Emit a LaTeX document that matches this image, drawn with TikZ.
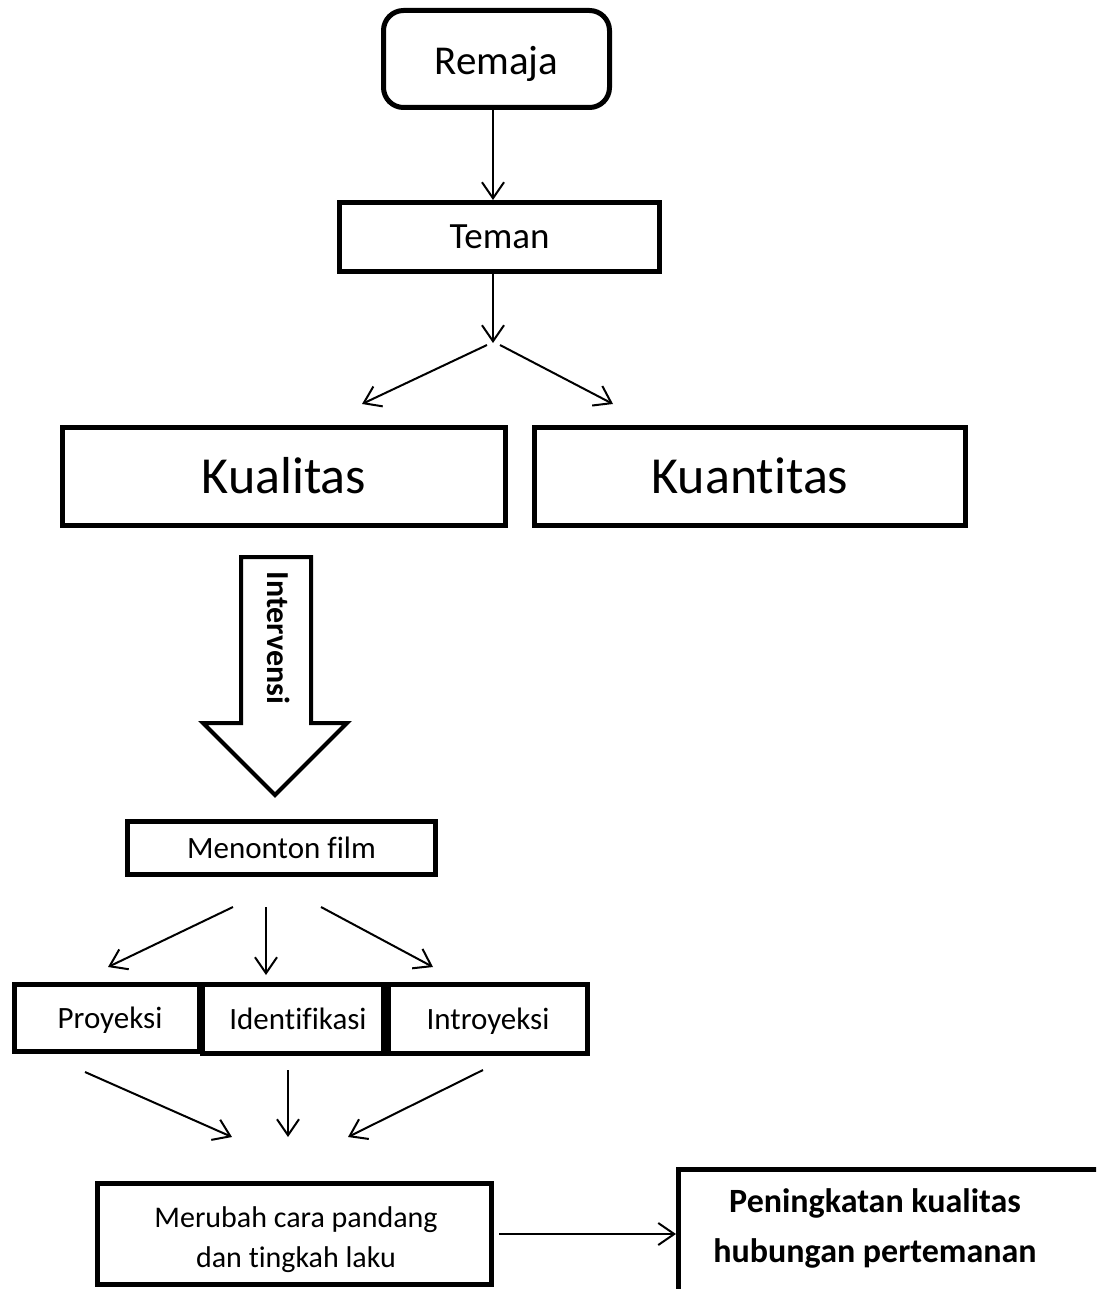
\documentclass[tikz,border=0pt]{standalone}
\usepackage{fontspec}
\setmainfont[Ligatures={NoCommon}]{Carlito}
\usetikzlibrary{arrows.meta}
\begin{document}
\begin{tikzpicture}[x=1pt,y=-1pt,
  box/.style={draw, line width=5pt, fill=white, inner sep=0pt, align=center, text depth=0pt},
  arr/.style={line width=2pt, -{Straight Barb[length=16pt,width=22pt]}}]
\useasboundingbox (0,0) rectangle (1096,1289);
\clip (0,0) rectangle (1096,1289);

% nodes
\node[box, rounded corners=20pt, minimum width=226pt, minimum height=97pt, text height=31pt,
      font=\fontsize{41}{49}\selectfont] (rj) at (496.5,59) {Remaja};
\node[box, minimum width=320pt, minimum height=69pt, text height=23.8pt,
      font=\fontsize{37}{44}\selectfont] (tm) at (499.5,237) {Teman};
\node[box, minimum width=443pt, minimum height=98pt, text height=33.5pt,
      font=\fontsize{52}{60}\selectfont] (kl) at (284,476.5) {Kualitas};
\node[box, minimum width=431pt, minimum height=98pt, text height=33.5pt,
      font=\fontsize{52}{60}\selectfont] (kn) at (750,476.5) {Kuantitas};
\node[box, minimum width=308pt, minimum height=53pt, text height=20pt,
      font=\fontsize{31}{38}\selectfont] (mf) at (281.5,848) {Menonton film};
\node[box, minimum width=185pt, minimum height=67pt, text height=20pt,
      font=\fontsize{31}{38}\selectfont] (pr) at (107,1018) {\hspace*{6pt}Proyeksi};
\node[box, minimum width=181pt, minimum height=69pt, text height=20pt,
      font=\fontsize{31}{38}\selectfont] (id) at (293,1019) {\hspace*{10pt}Identifikasi};
\node[box, minimum width=199pt, minimum height=69pt, text height=20pt,
      font=\fontsize{31}{38}\selectfont] (in) at (488,1019) {Introyeksi};
\node[box, minimum width=394pt, minimum height=101pt] (mr) at (294.5,1234) {};
\node[font=\fontsize{30}{40}\selectfont, align=center] (mrt) at (296,1240)
      {Merubah cara pandang\\dan tingkah laku};
\node[box, anchor=north west, minimum width=600pt, minimum height=300pt] (pk) at (676,1167) {};
\node[font=\bfseries\fontsize{34}{50}\selectfont, align=center] (pkt) at (875,1228)
      {Peningkatan kualitas\\hubungan pertemanan};

% hollow intervention arrow
\draw[line width=4pt, line join=miter, fill=white]
  (241,557) -- (311,557) -- (311,723) -- (347,723) -- (275,795)
  -- (203,723) -- (241,723) -- cycle;
\node[rotate=-90, font=\bfseries\fontsize{32}{38}\selectfont] (iv) at (279,638) {Intervensi};

% coordinates
\coordinate (c1) at (493,0);
\coordinate (sp) at (493,343);
\coordinate (spl) at (487,345);
\coordinate (tl) at (362,404);
\coordinate (spr) at (500,345);
\coordinate (tr) at (613,404);
\coordinate (m1) at (233,907); \coordinate (p1) at (108,967);
\coordinate (m2) at (266,907); \coordinate (p2) at (266,975);
\coordinate (m3) at (321,907); \coordinate (p3) at (433,967);
\coordinate (q1) at (85,1072);  \coordinate (r1) at (232,1137);
\coordinate (q2) at (288,1070); \coordinate (r2) at (288,1137);
\coordinate (q3) at (483,1070); \coordinate (r3) at (348,1137);

% connectors
\draw[arr] (rj.south -| c1) -- (tm.north -| c1);
\draw[arr] (tm.south -| sp) -- (sp);
\draw[arr] (spl) -- (tl);
\draw[arr] (spr) -- (tr);
\draw[arr] (m1) -- (p1);
\draw[arr] (m2) -- (p2);
\draw[arr] (m3) -- (p3);
\draw[arr] (q1) -- (r1);
\draw[arr] (q2) -- (r2);
\draw[arr] (q3) -- (r3);
\draw[arr] ([xshift=5pt]mr.east) -- (mr.east -| pk.west);
\end{tikzpicture}
\end{document}
